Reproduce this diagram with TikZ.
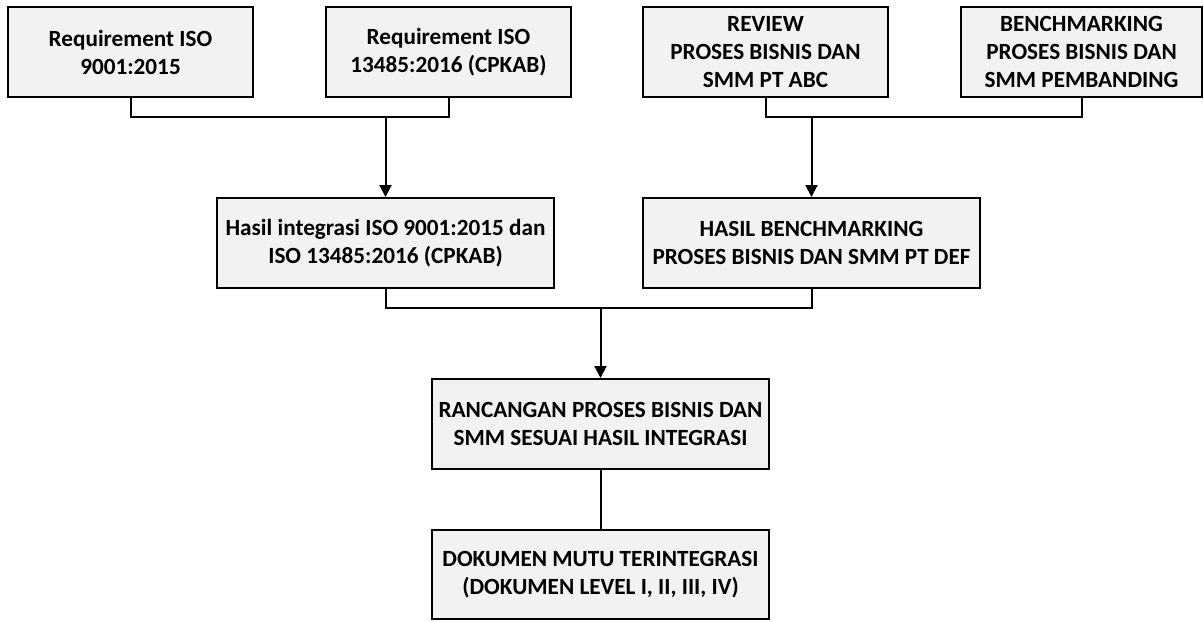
\documentclass[tikz,border=0pt]{standalone}
\usepackage{fontspec}
\setmainfont{Carlito}
\usetikzlibrary{arrows.meta}
\begin{document}
\begin{tikzpicture}[x=1pt,y=-1pt,
  box/.style={draw=black,line width=2pt,fill=boxfill,align=center,
    minimum height=90pt,inner sep=2pt,
    font=\fontsize{23.2}{28}\selectfont\bfseries},
  conn/.style={line width=2pt},
  arr/.style={line width=2pt,-{Triangle[length=12pt,width=12pt]}}]
\definecolor{boxfill}{HTML}{F2F2F2}
\useasboundingbox (0,0) rectangle (1204,621);
\node[box,minimum width=245pt] (b1) at (130.5,52) {Requirement ISO\\9001:2015};
\node[box,minimum width=245pt] (b2) at (448.5,52) {Requirement ISO\\13485:2016 (CPKAB)};
\node[box,minimum width=245pt] (b3) at (765.5,52) {REVIEW\\PROSES BISNIS DAN\\SMM PT ABC};
\node[box,minimum width=241pt] (b4) at (1081.5,52) {BENCHMARKING\\PROSES BISNIS DAN\\SMM PEMBANDING};
\node[box,minimum width=337pt] (b5) at (385.5,243) {Hasil integrasi ISO 9001:2015 dan\\ISO 13485:2016 (CPKAB)};
\node[box,minimum width=337pt] (b6) at (811.5,243) {HASIL BENCHMARKING\\PROSES BISNIS DAN SMM PT DEF};
\node[box,minimum width=337pt] (b7) at (600.5,424) {RANCANGAN PROSES BISNIS DAN\\SMM SESUAI HASIL INTEGRASI};
\node[box,minimum width=337pt,minimum height=89pt] (b8) at (600.5,574.5) {DOKUMEN MUTU TERINTEGRASI\\(DOKUMEN LEVEL I, II, III, IV)};
\coordinate (j1) at (385.5,117);
\coordinate (j2) at (811.5,117);
\coordinate (j3) at (600.5,308);
\draw[conn] (b1.south) -- (b1.south |- j1) -- (b2.south |- j1) -- (b2.south);
\draw[arr] (j1) -- (b5.north);
\draw[conn] (b3.south) -- (b3.south |- j2) -- (b4.south |- j2) -- (b4.south);
\draw[arr] (j2) -- (b6.north);
\draw[conn] (b5.south) -- (b5.south |- j3) -- (b6.south |- j3) -- (b6.south);
\draw[arr] (j3) -- (b7.north);
\draw[conn] (b7.south) -- (b8.north);
\end{tikzpicture}
\end{document}
